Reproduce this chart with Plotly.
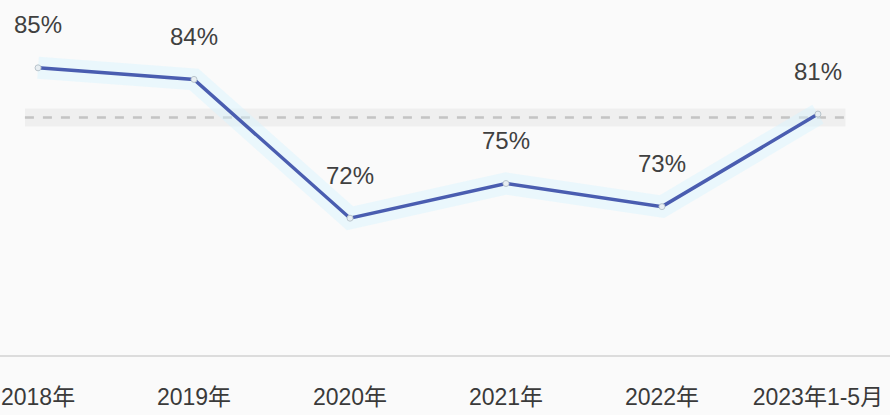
import plotly.graph_objects as go

# Yearly ratio series
periods = ["2018年", "2019年", "2020年", "2021年", "2022年", "2023年1-5月"]
ratio_pct = [85, 84, 72, 75, 73, 81]
reference_level = 80.7

x_idx = list(range(len(periods)))
font_family = "Liberation Sans, Arial, Noto Sans CJK SC, sans-serif"

fig = go.Figure()

# faint pale-blue halo under the line
fig.add_trace(go.Scatter(
    x=x_idx, y=ratio_pct, mode="lines",
    line=dict(color="rgba(215,243,255,0.45)", width=22),
    hoverinfo="skip", showlegend=False,
))

# main series
fig.add_trace(go.Scatter(
    x=x_idx, y=ratio_pct, mode="lines+markers",
    line=dict(color="#4a5db0", width=3.5),
    marker=dict(size=6, color="#e8eef2", line=dict(color="#b8c4cc", width=1)),
    showlegend=False,
))

# dashed reference line with a faint band
fig.add_shape(type="line", xref="paper", yref="y", x0=0.028, x1=0.95,
              y0=reference_level, y1=reference_level,
              line=dict(color="rgba(0,0,0,0.045)", width=18), layer="below")
fig.add_shape(type="line", xref="paper", yref="y", x0=0.028, x1=0.95,
              y0=reference_level, y1=reference_level,
              line=dict(color="#c4c4c4", width=2.5, dash="dash"), layer="below")

# value labels above each point
for xi, v in zip(x_idx, ratio_pct):
    fig.add_annotation(x=xi, y=v, text=f"{v}%", showarrow=False, yshift=43,
                       font=dict(family=font_family, size=24, color="#404040"))

fig.update_layout(
    width=890, height=415,
    margin=dict(l=0, r=0, t=10, b=58),
    paper_bgcolor="#fafafa", plot_bgcolor="#fafafa",
    font=dict(family=font_family, size=23, color="#3a3a3a"),
    xaxis=dict(
        tickmode="array", tickvals=x_idx, ticktext=periods,
        range=[-0.244, 5.462], showgrid=False, zeroline=False,
        showline=False, ticks="", ticklabelstandoff=24,
    ),
    yaxis=dict(range=[60, 90], visible=False, showgrid=False, zeroline=False),
)

# bottom baseline
fig.add_shape(type="line", xref="paper", yref="y", x0=0, x1=1, y0=60, y1=60,
              line=dict(color="#dcdcdc", width=4))

fig.write_html("out.html")
